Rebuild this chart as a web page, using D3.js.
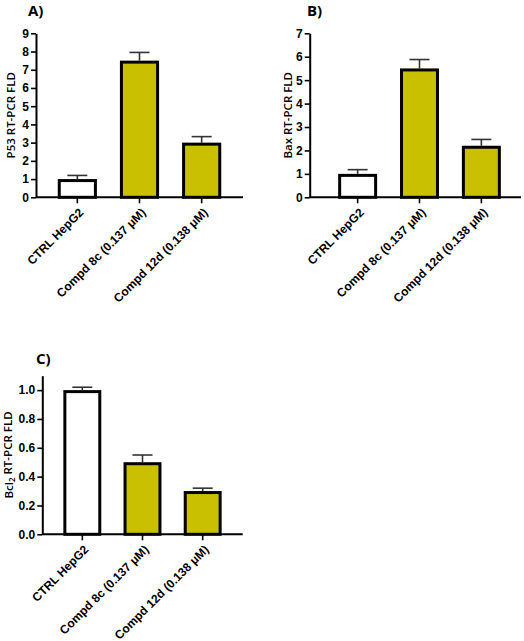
<!DOCTYPE html>
<html>
<head>
<meta charset="utf-8">
<script src="https://cdn.jsdelivr.net/npm/d3@7"></script>
<style>
  html, body { margin: 0; padding: 0; background: #fff; }
  svg { display: block; }
</style>
</head>
<body>
<svg id="chart" width="524" height="641"></svg>
<script>
// ---- data ----
const categories = ["CTRL HepG2", "Compd 8c (0.137 \u03bcM)", "Compd 12d (0.138 \u03bcM)"];
const barFills = ["#ffffff", "#c8c000", "#c8c000"];

const p53Values = [1.0, 7.5, 3.0];
const p53Errors = [0.2, 0.45, 0.33];
const p53Ticks = [0, 1, 2, 3, 4, 5, 6, 7, 8, 9];

const baxValues = [1.0, 5.5, 2.2];
const baxErrors = [0.18, 0.38, 0.27];
const baxTicks = [0, 1, 2, 3, 4, 5, 6, 7];

const bcl2Values = [1.0, 0.5, 0.3];
const bcl2Errors = [0.02, 0.05, 0.02];
const bcl2Ticks = [0, 0.2, 0.4, 0.6, 0.8, 1.0];

const svg = d3.select("#chart");

function panel(opt) {
  const g = svg.append("g");
  const y = d3.scaleLinear().domain(opt.domain).range([opt.bottom, opt.top]);
  const x = d3.scaleBand().domain(categories).range(opt.bandRange)
    .paddingInner(0.37).paddingOuter(0.35);

  const data = categories.map((c, i) => ({c, v: opt.values[i], e: opt.errors[i], fill: barFills[i]}));

  // error bars (upper only)
  const eb = g.append("g");
  data.forEach(d => {
    const cx = x(d.c) + x.bandwidth() / 2;
    eb.append("line").attr("x1", cx).attr("x2", cx)
      .attr("y1", y(d.v)).attr("y2", y(d.v + d.e))
      .attr("stroke", "#333").attr("stroke-width", 1.6);
    eb.append("line").attr("x1", cx - 10).attr("x2", cx + 10)
      .attr("y1", y(d.v + d.e)).attr("y2", y(d.v + d.e))
      .attr("stroke", "#333").attr("stroke-width", 1.6);
  });

  g.append("g").selectAll("rect").data(data).join("rect")
    .attr("x", d => x(d.c) + 1.5)
    .attr("width", x.bandwidth() - 3)
    .attr("y", d => y(d.v) + 1.5)
    .attr("height", d => y(0) - y(d.v) - 1.5)
    .attr("fill", d => d.fill)
    .attr("stroke", "#000")
    .attr("stroke-width", 3);

  // y axis
  const ya = g.append("g").attr("transform", `translate(${opt.left},0)`)
    .call(d3.axisLeft(y).tickValues(opt.ticks).tickFormat(opt.fmt).tickSize(5).tickSizeOuter(0).tickPadding(2));
  ya.select(".domain").attr("stroke", "#000").attr("stroke-width", 2);
  ya.selectAll(".tick line").attr("stroke", "#000").attr("stroke-width", 1.6);
  ya.selectAll(".tick text").attr("font-family", "'Liberation Sans', Arial, sans-serif")
    .attr("font-weight", "bold").attr("font-size", 12).attr("fill", "#000");

  // x axis
  const xa = g.append("g").attr("transform", `translate(0,${opt.bottom})`);
  xa.append("line").attr("x1", opt.left).attr("x2", opt.right)
    .attr("y1", 0).attr("y2", 0).attr("stroke", "#000").attr("stroke-width", 2);
  categories.forEach(c => {
    const cx = x(c) + x.bandwidth() / 2;
    xa.append("line").attr("x1", cx).attr("x2", cx).attr("y1", 0).attr("y2", 6)
      .attr("stroke", "#000").attr("stroke-width", 1.6);
    xa.append("text")
      .attr("transform", `translate(${cx + 4},${13}) rotate(-45)`)
      .attr("text-anchor", "end")
      .attr("dy", "0.35em")
      .attr("font-family", "'Liberation Sans', Arial, sans-serif")
      .attr("font-weight", "bold").attr("font-size", 12).attr("fill", "#000")
      .text(c);
  });

  // y title
  const t = g.append("text")
    .attr("transform", `translate(${opt.titleX},${(opt.top + opt.bottom) / 2}) rotate(-90)`)
    .attr("text-anchor", "middle")
    .attr("dy", "0.35em")
    .attr("font-family", "'Open Sans', sans-serif")
    .attr("font-weight", 600).attr("font-size", 11.5).attr("fill", "#000");
  opt.title(t);

  // panel letter
  g.append("text").attr("x", opt.letterX).attr("y", opt.letterY)
    .attr("font-family", "'Open Sans', sans-serif")
    .attr("font-weight", 700).attr("font-size", 15).attr("fill", "#000")
    .text(opt.letter);
}

panel({
  values: p53Values, errors: p53Errors, ticks: p53Ticks, domain: [0, 9], fmt: d3.format("d"),
  left: 36, right: 243, top: 33.3, bottom: 197.3, bandRange: [36, 243],
  titleX: 11, letter: "A)", letterX: 28, letterY: 16,
  title: t => t.text("P53 RT-PCR FLD")
});

panel({
  values: baxValues, errors: baxErrors, ticks: baxTicks, domain: [0, 7], fmt: d3.format("d"),
  left: 309.7, right: 521, top: 33.3, bottom: 197.3, bandRange: [316.5, 522.5],
  titleX: 288, letter: "B)", letterX: 307, letterY: 16,
  title: t => t.text("Bax RT-PCR FLD")
});

panel({
  values: bcl2Values, errors: bcl2Errors, ticks: bcl2Ticks, domain: [0, 1.1], fmt: d3.format(".1f"),
  left: 42.3, right: 242.7, top: 375.7, bottom: 534.3, bandRange: [42.3, 242.7],
  titleX: 9, letter: "C)", letterX: 36, letterY: 364,
  title: t => { t.append("tspan").text("Bcl"); t.append("tspan").attr("font-size", 8).attr("dy", "0.25em").text("2");
                t.append("tspan").attr("dy", "-0.25em").text(" RT-PCR FLD"); }
});
</script>
</body>
</html>
